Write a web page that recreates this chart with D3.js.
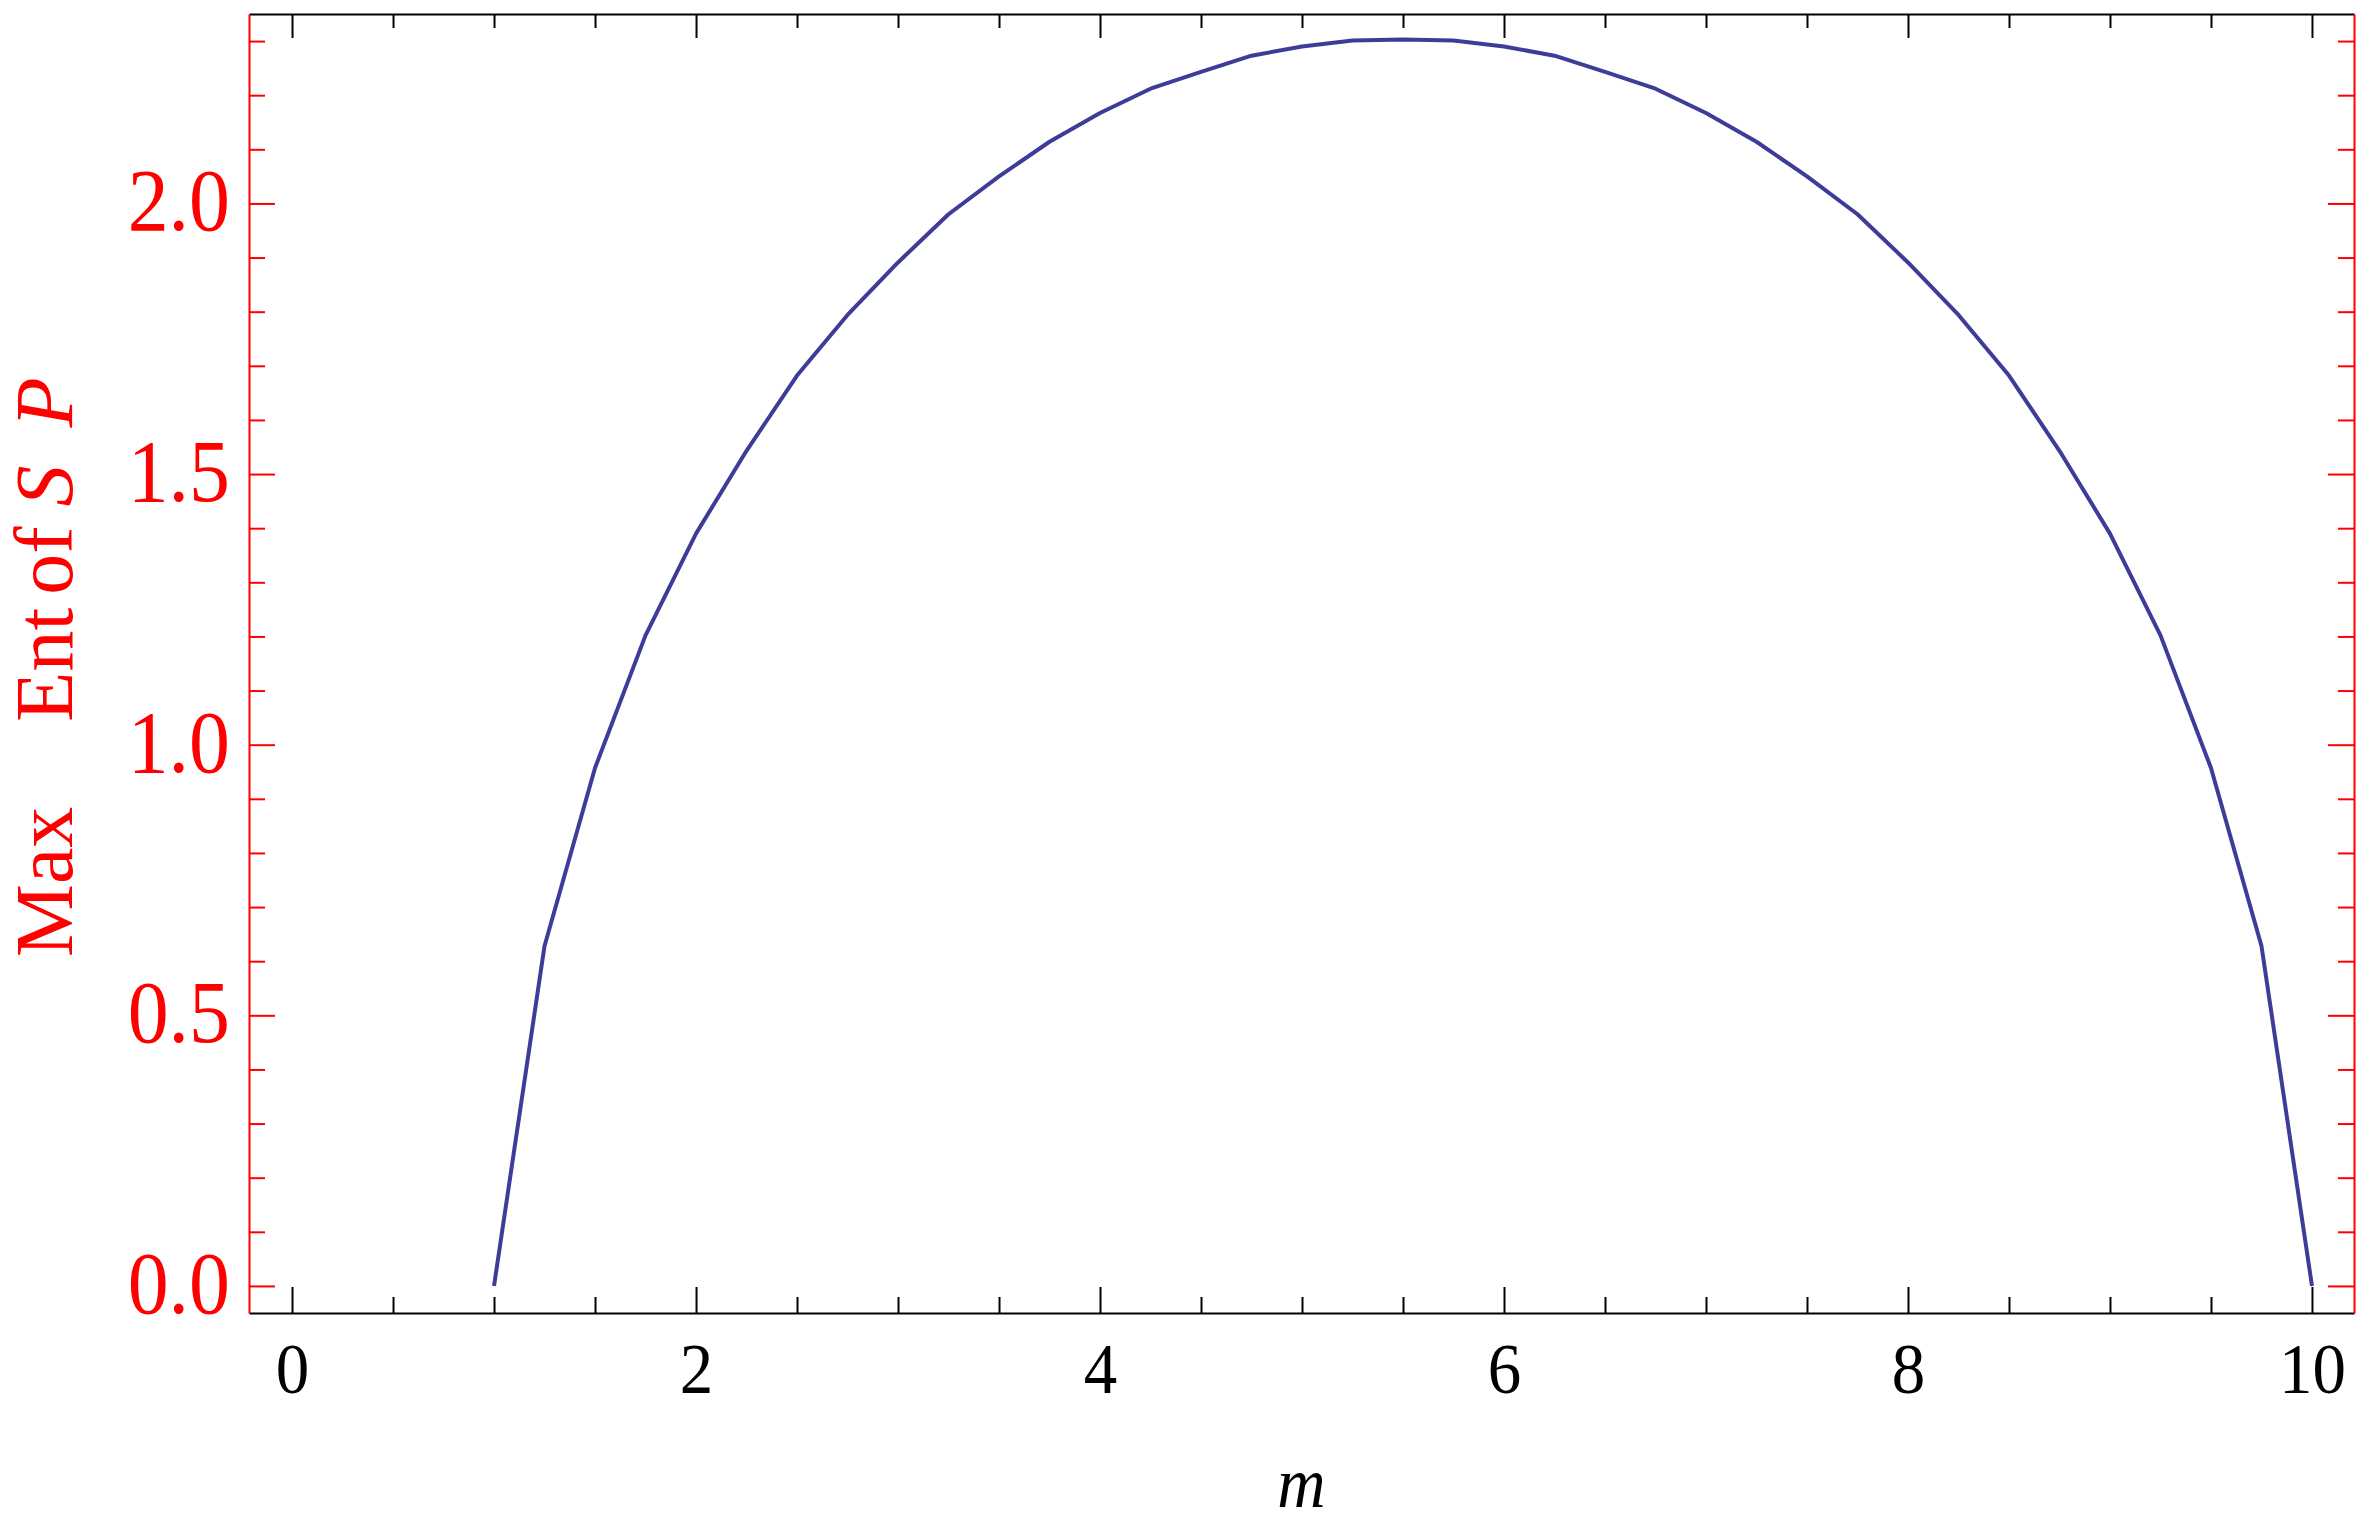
<!DOCTYPE html>
<html>
<head>
<meta charset="utf-8">
<script src="https://cdn.jsdelivr.net/npm/d3@7"></script>
<style>
  body { margin: 0; background: #fff; }
  svg text { font-family: 'Liberation Serif', 'Times New Roman', serif; }
</style>
</head>
<body>
<svg id="chart" width="2364" height="1526"></svg>
<script>
const mValues = [1, 1.25, 1.5, 1.75, 2, 2.25, 2.5, 2.75, 3, 3.25, 3.5, 3.75, 4, 4.25, 4.5, 4.75, 5, 5.25, 5.5,
  5.75, 6, 6.25, 6.5, 6.75, 7, 7.25, 7.5, 7.75, 8, 8.25, 8.5, 8.75, 9, 9.25, 9.5, 9.75, 10];
const maxEnt = [0, 0.628, 0.957, 1.202, 1.39, 1.543, 1.682, 1.794, 1.891, 1.98, 2.05, 2.114, 2.167, 2.212, 2.243, 2.273, 2.29, 2.301, 2.303,
  2.301, 2.29, 2.273, 2.243, 2.212, 2.167, 2.114, 2.05, 1.98, 1.891, 1.794, 1.682, 1.543, 1.39, 1.202, 0.957, 0.628, 0];

const xTicks = [0, 2, 4, 6, 8, 10];
const xTickLabels = ['0', '2', '4', '6', '8', '10'];
const yTicks = [0, 0.5, 1, 1.5, 2];
const yTickLabels = ['0.0', '0.5', '1.0', '1.5', '2.0'];

function drawChart() {
  const svg = d3.select('#chart');

  const width = 2364,
    height = 1526,
    margin = {top: 14, right: 10, bottom: 213, left: 249};

  const x = d3.scaleLinear()
    .domain([-0.213, 10.208])
    .range([margin.left, width - margin.right]);

  const y = d3.scaleLinear()
    .domain([-0.05, 2.35])
    .range([height - margin.bottom, margin.top]);

  const xMinor = d3.range(1, 21).filter(i => i % 4).map(i => i / 2);
  const yMinor = d3.range(1, 24).filter(i => i % 5).map(i => i / 10);

  function styleAxis(g, color) {
    g.selectAll('path, line')
      .attr('stroke', color)
      .attr('stroke-width', 2);
  }

  // the reference digits are a little narrower than Liberation Serif
  function squeeze(sel, k) {
    sel.each(function() {
      const w = this.getComputedTextLength();
      d3.select(this)
        .attr('textLength', w * k)
        .attr('lengthAdjust', 'spacingAndGlyphs');
    });
  }

  // bottom frame (black)
  svg.append('g')
    .attr('transform', `translate(0, ${height - margin.bottom})`)
    .call(d3.axisBottom(x).tickValues(xMinor).tickSizeInner(-16).tickSizeOuter(0).tickFormat(''))
    .call(styleAxis, '#000');

  const xAxis = svg.append('g')
    .attr('transform', `translate(0, ${height - margin.bottom})`)
    .call(d3.axisBottom(x).tickValues(xTicks).tickSizeInner(-26).tickSizeOuter(0).tickPadding(29)
      .tickFormat((d, i) => xTickLabels[i]))
    .call(styleAxis, '#000');
  xAxis.select('.domain').remove();
  xAxis.selectAll('text')
    .attr('fill', '#000')
    .attr('font-size', 72)
    .call(squeeze, 0.93);

  // top frame (black)
  svg.append('g')
    .attr('transform', `translate(0, ${margin.top})`)
    .call(d3.axisTop(x).tickValues(xMinor).tickSizeInner(-14).tickSizeOuter(0).tickFormat(''))
    .call(styleAxis, '#000');
  svg.append('g')
    .attr('transform', `translate(0, ${margin.top})`)
    .call(d3.axisTop(x).tickValues(xTicks).tickSizeInner(-24).tickSizeOuter(0).tickFormat(''))
    .call(styleAxis, '#000')
    .select('.domain').remove();

  // left frame (red)
  svg.append('g')
    .attr('transform', `translate(${margin.left}, 0)`)
    .call(d3.axisLeft(y).tickValues(yMinor).tickSizeInner(-16).tickSizeOuter(0).tickFormat(''))
    .call(styleAxis, '#ff0000');

  const yAxis = svg.append('g')
    .attr('transform', `translate(${margin.left}, 0)`)
    .call(d3.axisLeft(y).tickValues(yTicks).tickSizeInner(-26).tickSizeOuter(0).tickPadding(19)
      .tickFormat((d, i) => yTickLabels[i]))
    .call(styleAxis, '#ff0000');
  yAxis.select('.domain').remove();
  yAxis.selectAll('text')
    .attr('fill', '#ff0000')
    .attr('font-size', 88)
    .attr('dy', '0.3em')
    .call(squeeze, 0.93);

  // right frame (red)
  svg.append('g')
    .attr('transform', `translate(${width - margin.right}, 0)`)
    .call(d3.axisRight(y).tickValues(yMinor).tickSizeInner(-16).tickSizeOuter(0).tickFormat(''))
    .call(styleAxis, '#ff0000');
  svg.append('g')
    .attr('transform', `translate(${width - margin.right}, 0)`)
    .call(d3.axisRight(y).tickValues(yTicks).tickSizeInner(-26).tickSizeOuter(0).tickFormat(''))
    .call(styleAxis, '#ff0000')
    .select('.domain').remove();

  // the curve
  const line = d3.line()
    .x((d, i) => x(mValues[i]))
    .y(d => y(d));

  svg.append('path')
    .datum(maxEnt)
    .attr('fill', 'none')
    .attr('stroke', 'rgb(61, 61, 153)')
    .attr('stroke-width', 4)
    .attr('stroke-linejoin', 'round')
    .attr('d', line);

  // axis labels
  svg.append('text')
    .attr('x', (margin.left + width - margin.right) / 2)
    .attr('y', 1507)
    .attr('text-anchor', 'middle')
    .attr('font-size', 72)
    .attr('font-style', 'italic')
    .text('m')
    .call(squeeze, 0.93);

  const yLabel = svg.append('text')
    .attr('transform', 'translate(72, 957) rotate(-90)')
    .attr('font-size', 82)
    .attr('fill', '#ff0000');
  yLabel.append('tspan').text('Max');
  yLabel.append('tspan').attr('dx', 85).text('Ent');
  yLabel.append('tspan').attr('dx', 13).text('of');
  yLabel.append('tspan').attr('dx', 20).attr('font-style', 'italic').text('S');
  yLabel.append('tspan').attr('dx', 38).attr('font-style', 'italic').text('P');
}

drawChart();
</script>
</body>
</html>
